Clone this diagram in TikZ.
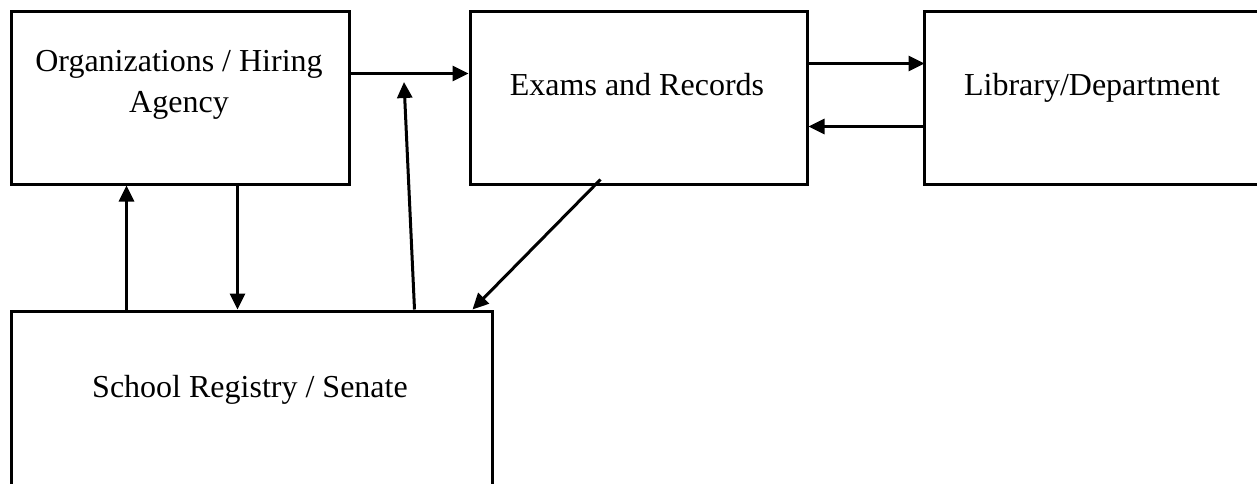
\documentclass[tikz,border=0pt]{standalone}
\usepackage{fontspec}
\setmainfont{Liberation Serif}
\usetikzlibrary{arrows.meta,calc}
\begin{document}
\begin{tikzpicture}[x=0.5pt,y=-0.5pt,
  box/.style={draw,line width=1.5pt,rectangle,inner sep=0pt},
  lbl/.style={inner sep=0pt,font=\fontsize{16}{20.5}\selectfont,align=center},
  arr/.style={line width=1.5pt,-{Triangle[length=8pt,width=7.5pt]}}]
  \useasboundingbox (0,0) rectangle (1257,483);
  \clip (0,0) rectangle (1257,483);
  % boxes
  \node[box,minimum width=169pt,minimum height=86.5pt] (A) at (180,97.5) {};
  \node[box,minimum width=168.5pt,minimum height=86.5pt] (B) at (638.5,97.5) {};
  \node[box,minimum width=173pt,minimum height=86.5pt] (C) at (1097,97.5) {};
  \node[box,minimum width=240.5pt,minimum height=100pt] (D) at (251.5,411) {};
  % labels
  \node[lbl] (Atext) at (179,85) {Organizations / Hiring\\Agency};
  \node[lbl,anchor=base] (Btext) at (637,95) {Exams and Records};
  \node[lbl,anchor=base] (Ctext) at (1092,95) {Library/Department};
  \node[lbl,anchor=base] (Dtext) at (250,397) {School Registry / Senate};
  % free end of the slanted arrow
  \coordinate (tipA) at (404,82);
  % connectors
  \draw[arr] ($(A.north east)+(0,64)$) -- ($(B.north west)+(0,64)$);
  \draw[arr] ($(D.north west)+(405,0)$) -- (tipA);
  \draw[arr] ($(B.north east)+(0,54)$) -- ($(C.north west)+(2,54)$);
  \draw[arr] ($(C.north west)+(0,117)$) -- ($(B.north east)+(0,117)$);
  \draw[arr] ($(B.south west)+(132,-6)$) -- ($(D.north east)+(-21,0)$);
  \draw[arr] ($(D.north west)+(117,0)$) -- ($(A.south west)+(117,0)$);
  \draw[arr] ($(A.south west)+(228,0)$) -- ($(D.north west)+(228,0)$);
\end{tikzpicture}
\end{document}
